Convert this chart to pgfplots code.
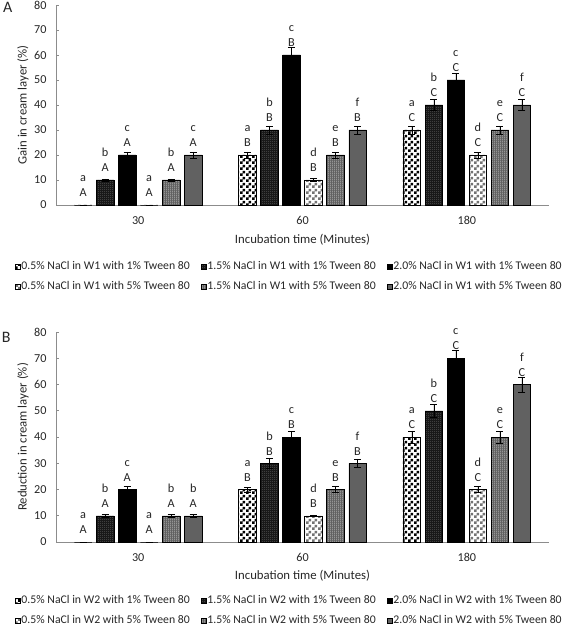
\documentclass[border=0pt]{standalone}
\usepackage{fontspec}
\setmainfont{Carlito}
\usepackage{pgfplots}
\pgfplotsset{compat=1.18}
\usepackage{pgfplotstable}
\usetikzlibrary{patterns}

\pgfdeclarepatternformonly{chk}{\pgfpointorigin}{\pgfpoint{6bp}{6bp}}{\pgfpoint{6bp}{6bp}}{%
  \pgfpathrectangle{\pgfpointorigin}{\pgfpoint{3bp}{3bp}}%
  \pgfpathrectangle{\pgfpoint{3bp}{3bp}}{\pgfpoint{3bp}{3bp}}%
  \pgfusepath{fill}}
\pgfdeclarepatternformonly{fdots}{\pgfpointorigin}{\pgfpoint{2bp}{2bp}}{\pgfpoint{2bp}{2bp}}{%
  \pgfpathrectangle{\pgfpointorigin}{\pgfpoint{0.8bp}{0.8bp}}\pgfusepath{fill}}
\pgfdeclarepatternformonly{fvl}{\pgfpointorigin}{\pgfpoint{2bp}{2bp}}{\pgfpoint{2bp}{2bp}}{%
  \pgfpathrectangle{\pgfpointorigin}{\pgfpoint{0.9bp}{2bp}}\pgfusepath{fill}}

% labels: lowercase letter followed by uppercase letter
\pgfplotstableread{
x y1 e1 l1 y2 e2 l2 y3 e3 l3 y4 e4 l4 y5 e5 l5 y6 e6 l6
0 0 0 aA 10 0.4 bA 20 1.2 cA 0 0 aA 10 0.4 bA 20 1.2 cA
1 20 1.2 aB 30 1.6 bB 60 3 cB 10 0.5 dB 20 1.2 eB 30 1.6 fB
2 30 1.6 aC 40 2.3 bC 50 2.7 cC 20 1.2 dC 30 1.6 eC 40 2.3 fC
}\tabA

\pgfplotstableread{
x y1 e1 l1 y2 e2 l2 y3 e3 l3 y4 e4 l4 y5 e5 l5 y6 e6 l6
0 0 0 aA 10 0.4 bA 20 1.3 cA 0 0 aA 10 0.4 bA 10 0.4 bA
1 20 0.9 aB 30 1.8 bB 40 2.2 cB 10 0.3 dB 20 1.1 eB 30 1.7 fB
2 40 2.2 aC 50 2.3 bC 70 3 cC 20 1.1 dC 40 2.2 eC 60 2.9 fC
}\tabB

\def\splitlab#1#2\relax{#1\\#2}

\pgfplotsset{
  panel/.style={
    scale only axis, width=493bp,
    xmin=-0.5, xmax=2.5, ymin=0, ymax=80,
    clip=false, ybar, bar width=0.107,
    axis x line*=bottom, axis y line*=left,
    axis line style={black!45, line width=0.6pt},
    xtick={0,1,2}, xticklabels={30,60,180},
    x tick style={draw=none},
    ytick={0,10,...,80}, tick align=inside, major tick length=3bp,
    y tick style={black!45, line width=0.6pt},
    tick label style={font=\fontsize{12.2}{14}\selectfont, text=black!85},
    /pgf/number format/assume math mode=true,
    yticklabel style={xshift=-6bp},
    xticklabel style={yshift=-8bp},
    label style={font=\fontsize{12.8}{15}\selectfont, text=black!85},
    xlabel={Incubation time (Minutes)},
    ylabel style={at={(axis description cs:-0.067,0.5)}, anchor=center},
    point meta=explicit symbolic,
    nodes near coords={\expandafter\splitlab\pgfplotspointmeta\relax},
    every node near coord/.append style={align=center, font=\fontsize{12.3}{15}\selectfont, text=black!85, inner sep=0pt, anchor=south, yshift=8bp},
    error bars/y dir=both, error bars/y explicit,
    error bars/error mark=|,
    error bars/error bar style={black, line width=0.5pt},
    error bars/error mark options={black, line width=0.5pt, mark size=3.5bp},
    legend columns=3,
    legend cell align=left,
    area legend,
    legend image code/.code={\draw[#1] (0bp,-2.6bp) rectangle (5.2bp,2.6bp);},
    legend style={draw=none, fill=none, inner sep=0pt, font=\fontsize{11.8}{14}\selectfont, text=black!85, anchor=north west,
      nodes={inner sep=0.5bp, text height=8bp, text depth=2bp}, row sep=9bp,
      /tikz/every even column/.append style={column sep=11bp}},
  },
  s1/.style={draw=black, line width=0.5pt, pattern=chk, pattern color=black, bar shift=-0.335},
  s2/.style={draw=black, line width=0.5pt, fill=black!90, postaction={pattern=fdots, pattern color=black!55}, bar shift=-0.201},
  s3/.style={draw=black, line width=0.5pt, fill=black, bar shift=-0.067},
  s4/.style={draw=black, line width=0.5pt, pattern=chk, pattern color=black!55, bar shift=0.067},
  s5/.style={draw=black, line width=0.5pt, fill=black!62, postaction={pattern=fvl, pattern color=black!30}, bar shift=0.201},
  s6/.style={draw=black, line width=0.5pt, fill=black!62, bar shift=0.335},
}

\begin{document}
\begin{tikzpicture}
\useasboundingbox (0,0) rectangle (567bp,626bp);

% Panel A
\begin{axis}[panel, at={(56bp,421bp)}, anchor=south west, height=200bp,
  ylabel={Gain in cream layer (\%)},
  xlabel style={at={(axis description cs:0.5,-0.175)}, anchor=center},
  legend style={at={(axis description cs:-0.083,-0.28)}}]
\addplot[s1] table[x=x,y=y1,y error=e1,meta=l1]{\tabA};
\addplot[s2] table[x=x,y=y2,y error=e2,meta=l2]{\tabA};
\addplot[s3] table[x=x,y=y3,y error=e3,meta=l3]{\tabA};
\addplot[s4] table[x=x,y=y4,y error=e4,meta=l4]{\tabA};
\addplot[s5] table[x=x,y=y5,y error=e5,meta=l5]{\tabA};
\addplot[s6] table[x=x,y=y6,y error=e6,meta=l6]{\tabA};
\legend{0.5\% NaCl in W1 with 1\% Tween 80, 1.5\% NaCl in W1 with 1\% Tween 80, 2.0\% NaCl in W1 with 1\% Tween 80,
        0.5\% NaCl in W1 with 5\% Tween 80, 1.5\% NaCl in W1 with 5\% Tween 80, 2.0\% NaCl in W1 with 5\% Tween 80}
\node[font=\fontsize{16}{18}\selectfont, text=black!85] at (axis description cs:-0.098,0.9875) {A};
\end{axis}

% Panel B
\begin{axis}[panel, at={(56bp,84bp)}, anchor=south west, height=210bp,
  ylabel={Reduction in cream layer (\%)},
  xlabel style={at={(axis description cs:0.5,-0.162)}, anchor=center},
  legend style={at={(axis description cs:-0.083,-0.252)}}]
\addplot[s1] table[x=x,y=y1,y error=e1,meta=l1]{\tabB};
\addplot[s2] table[x=x,y=y2,y error=e2,meta=l2]{\tabB};
\addplot[s3] table[x=x,y=y3,y error=e3,meta=l3]{\tabB};
\addplot[s4] table[x=x,y=y4,y error=e4,meta=l4]{\tabB};
\addplot[s5] table[x=x,y=y5,y error=e5,meta=l5]{\tabB};
\addplot[s6] table[x=x,y=y6,y error=e6,meta=l6]{\tabB};
\legend{0.5\% NaCl in W2 with 1\% Tween 80, 1.5\% NaCl in W2 with 1\% Tween 80, 2.0\% NaCl in W2 with 1\% Tween 80,
        0.5\% NaCl in W2 with 5\% Tween 80, 1.5\% NaCl in W2 with 5\% Tween 80, 2.0\% NaCl in W2 with 5\% Tween 80}
\node[font=\fontsize{16}{18}\selectfont, text=black!85] at (axis description cs:-0.101,0.976) {B};
\end{axis}
\end{tikzpicture}
\end{document}
